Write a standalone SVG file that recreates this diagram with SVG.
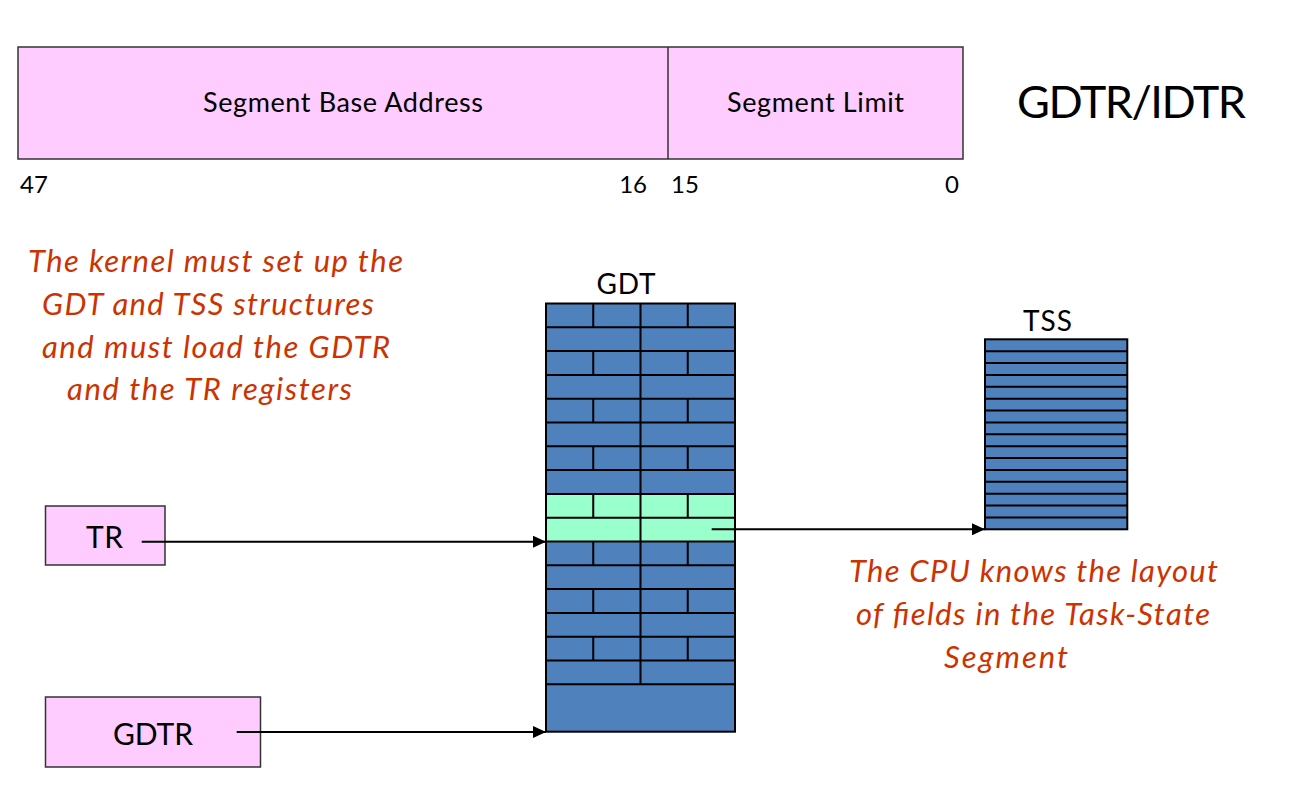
<svg xmlns="http://www.w3.org/2000/svg" width="1299" height="810" viewBox="0 0 1299 810">
<style>
.pink{fill:#FFCCFF;stroke:#333;stroke-width:1.5}
.lbl{font-family:Lato,"Open Sans","Liberation Sans",sans-serif;fill:#000}
.note{font-family:Lato,"Open Sans","Liberation Sans",sans-serif;font-style:italic;font-size:31px;fill:#CC3300}
.grid{fill:none;stroke:#000;stroke-width:2}
.conn{stroke:#000;stroke-width:2;fill:none;marker-end:url(#ah)}
</style>
<defs>
<marker id="ah" markerUnits="userSpaceOnUse" markerWidth="14" markerHeight="12" refX="13" refY="6" orient="auto">
<path d="M0,0 L13,6 L0,12 z" fill="#000"/>
</marker>
</defs>
<rect width="1299" height="810" fill="#fff"/>

<g id="gdtr-idtr">
<rect class="pink" x="18" y="47" width="945" height="112"/>
<line x1="668" y1="47" x2="668" y2="159" stroke="#333" stroke-width="1.5"/>
<text class="lbl" x="343" y="112" font-size="27" text-anchor="middle" textLength="280">Segment Base Address</text>
<text class="lbl" x="815.5" y="112" font-size="27" text-anchor="middle" textLength="177">Segment Limit</text>
<text class="lbl" x="20" y="193" font-size="24">47</text>
<text class="lbl" x="647" y="193" font-size="24" text-anchor="end">16</text>
<text class="lbl" x="671" y="193" font-size="24">15</text>
<text class="lbl" x="959" y="193" font-size="24" text-anchor="end">0</text>
<text class="lbl" x="1017" y="118" font-size="45" textLength="229">GDTR/IDTR</text>
</g>

<g id="note-kernel">
<text class="note" x="28" y="272" textLength="375">The kernel must set up the</text>
<text class="note" x="42" y="315" textLength="332">GDT and TSS structures</text>
<text class="note" x="42" y="358" textLength="348">and must load the GDTR</text>
<text class="note" x="67" y="400" textLength="285">and the TR registers</text>
</g>

<g id="gdt">
<text class="lbl" x="626" y="294" font-size="28" text-anchor="middle" textLength="59">GDT</text>
<rect x="546" y="303.5" width="189" height="428.2" fill="#4F81BD"/>
<rect x="546" y="493.9" width="189" height="47.6" fill="#99FFCC"/>
<path class="grid" d="M546,327.3H735 M546,351.1H735 M546,374.9H735 M546,398.7H735 M546,422.5H735 M546,446.3H735 M546,470.1H735 M546,493.9H735 M546,517.7H735 M546,541.5H735 M546,565.3H735 M546,589.1H735 M546,612.9H735 M546,636.7H735 M546,660.5H735 M546,684.3H735 M640.5,303.5V684.3 M593.25,303.5V327.3 M687.75,303.5V327.3 M593.25,351.1V374.9 M687.75,351.1V374.9 M593.25,398.7V422.5 M687.75,398.7V422.5 M593.25,446.3V470.1 M687.75,446.3V470.1 M593.25,493.9V517.7 M687.75,493.9V517.7 M593.25,541.5V565.3 M687.75,541.5V565.3 M593.25,589.1V612.9 M687.75,589.1V612.9 M593.25,636.7V660.5 M687.75,636.7V660.5"/>
<rect class="grid" x="546" y="303.5" width="189" height="428.2"/>
</g>

<g id="tss">
<text class="lbl" x="1047.5" y="331" font-size="28" text-anchor="middle" textLength="49">TSS</text>
<rect x="985" y="339.3" width="142.3" height="190" fill="#4F81BD"/>
<path class="grid" stroke-width="1.8" d="M985,351.2H1127.3 M985,363.05H1127.3 M985,374.9H1127.3 M985,386.8H1127.3 M985,398.7H1127.3 M985,410.55H1127.3 M985,422.4H1127.3 M985,434.3H1127.3 M985,446.2H1127.3 M985,458.05H1127.3 M985,469.9H1127.3 M985,481.8H1127.3 M985,493.7H1127.3 M985,505.55H1127.3 M985,517.4H1127.3"/>
<rect class="grid" x="985" y="339.3" width="142.3" height="190" stroke-width="1.8"/>
</g>

<g id="tr">
<rect class="pink" x="45.5" y="506" width="119.5" height="59"/>
<text class="lbl" x="104.5" y="548" font-size="30" text-anchor="middle" textLength="37">TR</text>
</g>

<g id="gdtr">
<rect class="pink" x="45.5" y="697" width="215" height="70"/>
<text class="lbl" x="153" y="745" font-size="30" text-anchor="middle" textLength="80">GDTR</text>
</g>

<g id="note-cpu">
<text class="note" x="849" y="582" textLength="369">The CPU knows the layout</text>
<text class="note" x="856" y="625" textLength="354">of fields in the Task-State</text>
<text class="note" x="944" y="668" textLength="124">Segment</text>
</g>

<g id="connectors">
<path class="conn" d="M141.7,541.7H546"/>
<path class="conn" d="M236.7,732H546"/>
<path class="conn" d="M711.7,529.3H985"/>
</g>
</svg>
